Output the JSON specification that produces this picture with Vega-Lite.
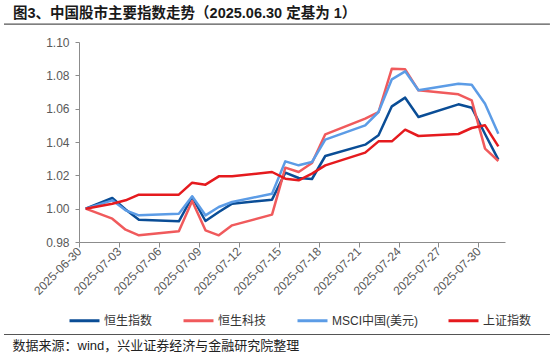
{
  "$schema": "https://vega.github.io/schema/vega-lite/v6.json",
  "width": 426,
  "height": 200,
  "autosize": {"type": "none"},
  "padding": {"left": 79, "top": 42, "right": 45, "bottom": 115},
  "background": "white",
  "config": {
    "view": {"stroke": null},
    "font": "Liberation Sans, Noto Sans CJK SC"
  },
  "title": {
    "text": "图3、中国股市主要指数走势（2025.06.30 定基为 1）",
    "anchor": "start",
    "frame": "group",
    "dx": -66,
    "offset": 2,
    "fontSize": 14.5,
    "fontWeight": "bold",
    "color": "#1a1a1a",
    "font": "Liberation Sans, Noto Sans CJK SC"
  },
  "datasets": {
    "idx": [
      {"d": "2025-06-30T12:00", "s": "恒生指数", "v": 1.000},
      {"d": "2025-07-02T12:00", "s": "恒生指数", "v": 1.0064},
      {"d": "2025-07-03T12:00", "s": "恒生指数", "v": 0.9995},
      {"d": "2025-07-04T12:00", "s": "恒生指数", "v": 0.9934},
      {"d": "2025-07-07T12:00", "s": "恒生指数", "v": 0.9924},
      {"d": "2025-07-08T12:00", "s": "恒生指数", "v": 1.007},
      {"d": "2025-07-09T12:00", "s": "恒生指数", "v": 0.9926},
      {"d": "2025-07-10T12:00", "s": "恒生指数", "v": 0.998},
      {"d": "2025-07-11T12:00", "s": "恒生指数", "v": 1.003},
      {"d": "2025-07-14T12:00", "s": "恒生指数", "v": 1.0054},
      {"d": "2025-07-15T12:00", "s": "恒生指数", "v": 1.0216},
      {"d": "2025-07-16T12:00", "s": "恒生指数", "v": 1.0184},
      {"d": "2025-07-17T12:00", "s": "恒生指数", "v": 1.0178},
      {"d": "2025-07-18T12:00", "s": "恒生指数", "v": 1.0316},
      {"d": "2025-07-21T12:00", "s": "恒生指数", "v": 1.0384},
      {"d": "2025-07-22T12:00", "s": "恒生指数", "v": 1.044},
      {"d": "2025-07-23T12:00", "s": "恒生指数", "v": 1.0614},
      {"d": "2025-07-24T12:00", "s": "恒生指数", "v": 1.0666},
      {"d": "2025-07-25T12:00", "s": "恒生指数", "v": 1.055},
      {"d": "2025-07-28T12:00", "s": "恒生指数", "v": 1.0626},
      {"d": "2025-07-29T12:00", "s": "恒生指数", "v": 1.0606},
      {"d": "2025-07-30T12:00", "s": "恒生指数", "v": 1.0448},
      {"d": "2025-07-31T12:00", "s": "恒生指数", "v": 1.0294},

      {"d": "2025-06-30T12:00", "s": "恒生科技", "v": 1.000},
      {"d": "2025-07-02T12:00", "s": "恒生科技", "v": 0.994},
      {"d": "2025-07-03T12:00", "s": "恒生科技", "v": 0.9874},
      {"d": "2025-07-04T12:00", "s": "恒生科技", "v": 0.984},
      {"d": "2025-07-07T12:00", "s": "恒生科技", "v": 0.9864},
      {"d": "2025-07-08T12:00", "s": "恒生科技", "v": 1.0046},
      {"d": "2025-07-09T12:00", "s": "恒生科技", "v": 0.987},
      {"d": "2025-07-10T12:00", "s": "恒生科技", "v": 0.984},
      {"d": "2025-07-11T12:00", "s": "恒生科技", "v": 0.990},
      {"d": "2025-07-14T12:00", "s": "恒生科技", "v": 0.9964},
      {"d": "2025-07-15T12:00", "s": "恒生科技", "v": 1.0246},
      {"d": "2025-07-16T12:00", "s": "恒生科技", "v": 1.022},
      {"d": "2025-07-17T12:00", "s": "恒生科技", "v": 1.0274},
      {"d": "2025-07-18T12:00", "s": "恒生科技", "v": 1.0446},
      {"d": "2025-07-21T12:00", "s": "恒生科技", "v": 1.054},
      {"d": "2025-07-22T12:00", "s": "恒生科技", "v": 1.058},
      {"d": "2025-07-23T12:00", "s": "恒生科技", "v": 1.084},
      {"d": "2025-07-24T12:00", "s": "恒生科技", "v": 1.0836},
      {"d": "2025-07-25T12:00", "s": "恒生科技", "v": 1.071},
      {"d": "2025-07-28T12:00", "s": "恒生科技", "v": 1.0686},
      {"d": "2025-07-29T12:00", "s": "恒生科技", "v": 1.065},
      {"d": "2025-07-30T12:00", "s": "恒生科技", "v": 1.036},
      {"d": "2025-07-31T12:00", "s": "恒生科技", "v": 1.0286},

      {"d": "2025-06-30T12:00", "s": "MSCI中国(美元)", "v": 1.000},
      {"d": "2025-07-02T12:00", "s": "MSCI中国(美元)", "v": 1.005},
      {"d": "2025-07-03T12:00", "s": "MSCI中国(美元)", "v": 0.999},
      {"d": "2025-07-04T12:00", "s": "MSCI中国(美元)", "v": 0.996},
      {"d": "2025-07-07T12:00", "s": "MSCI中国(美元)", "v": 0.997},
      {"d": "2025-07-08T12:00", "s": "MSCI中国(美元)", "v": 1.0074},
      {"d": "2025-07-09T12:00", "s": "MSCI中国(美元)", "v": 0.996},
      {"d": "2025-07-10T12:00", "s": "MSCI中国(美元)", "v": 1.001},
      {"d": "2025-07-11T12:00", "s": "MSCI中国(美元)", "v": 1.004},
      {"d": "2025-07-14T12:00", "s": "MSCI中国(美元)", "v": 1.009},
      {"d": "2025-07-15T12:00", "s": "MSCI中国(美元)", "v": 1.0284},
      {"d": "2025-07-16T12:00", "s": "MSCI中国(美元)", "v": 1.026},
      {"d": "2025-07-17T12:00", "s": "MSCI中国(美元)", "v": 1.028},
      {"d": "2025-07-18T12:00", "s": "MSCI中国(美元)", "v": 1.0414},
      {"d": "2025-07-21T12:00", "s": "MSCI中国(美元)", "v": 1.050},
      {"d": "2025-07-22T12:00", "s": "MSCI中国(美元)", "v": 1.058},
      {"d": "2025-07-23T12:00", "s": "MSCI中国(美元)", "v": 1.0776},
      {"d": "2025-07-24T12:00", "s": "MSCI中国(美元)", "v": 1.0824},
      {"d": "2025-07-25T12:00", "s": "MSCI中国(美元)", "v": 1.071},
      {"d": "2025-07-28T12:00", "s": "MSCI中国(美元)", "v": 1.075},
      {"d": "2025-07-29T12:00", "s": "MSCI中国(美元)", "v": 1.0744},
      {"d": "2025-07-30T12:00", "s": "MSCI中国(美元)", "v": 1.063},
      {"d": "2025-07-31T12:00", "s": "MSCI中国(美元)", "v": 1.045},

      {"d": "2025-06-30T12:00", "s": "上证指数", "v": 1.000},
      {"d": "2025-07-01T12:00", "s": "上证指数", "v": 1.0015},
      {"d": "2025-07-02T12:00", "s": "上证指数", "v": 1.003},
      {"d": "2025-07-03T12:00", "s": "上证指数", "v": 1.005},
      {"d": "2025-07-04T12:00", "s": "上证指数", "v": 1.0084},
      {"d": "2025-07-07T12:00", "s": "上证指数", "v": 1.0084},
      {"d": "2025-07-08T12:00", "s": "上证指数", "v": 1.0156},
      {"d": "2025-07-09T12:00", "s": "上证指数", "v": 1.0144},
      {"d": "2025-07-10T12:00", "s": "上证指数", "v": 1.0194},
      {"d": "2025-07-11T12:00", "s": "上证指数", "v": 1.0194},
      {"d": "2025-07-14T12:00", "s": "上证指数", "v": 1.022},
      {"d": "2025-07-15T12:00", "s": "上证指数", "v": 1.018},
      {"d": "2025-07-16T12:00", "s": "上证指数", "v": 1.017},
      {"d": "2025-07-17T12:00", "s": "上证指数", "v": 1.021},
      {"d": "2025-07-18T12:00", "s": "上证指数", "v": 1.026},
      {"d": "2025-07-21T12:00", "s": "上证指数", "v": 1.0336},
      {"d": "2025-07-22T12:00", "s": "上证指数", "v": 1.0404},
      {"d": "2025-07-23T12:00", "s": "上证指数", "v": 1.0404},
      {"d": "2025-07-24T12:00", "s": "上证指数", "v": 1.0474},
      {"d": "2025-07-25T12:00", "s": "上证指数", "v": 1.0436},
      {"d": "2025-07-28T12:00", "s": "上证指数", "v": 1.0448},
      {"d": "2025-07-29T12:00", "s": "上证指数", "v": 1.0484},
      {"d": "2025-07-30T12:00", "s": "上证指数", "v": 1.050},
      {"d": "2025-07-31T12:00", "s": "上证指数", "v": 1.0374}
    ],
    "one": [{"k": 1}]
  },
  "layer": [
    {
      "data": {"name": "idx"},
      "mark": {"type": "line", "strokeWidth": 2.5, "strokeJoin": "round"},
      "encoding": {
        "x": {
          "field": "d",
          "type": "temporal",
          "scale": {"domain": [{"year": 2025, "month": 6, "date": 30}, {"year": 2025, "month": 8, "date": 1}], "nice": false},
          "axis": {
            "values": [
              {"year": 2025, "month": 6, "date": 30},
              {"year": 2025, "month": 7, "date": 3},
              {"year": 2025, "month": 7, "date": 6},
              {"year": 2025, "month": 7, "date": 9},
              {"year": 2025, "month": 7, "date": 12},
              {"year": 2025, "month": 7, "date": 15},
              {"year": 2025, "month": 7, "date": 18},
              {"year": 2025, "month": 7, "date": 21},
              {"year": 2025, "month": 7, "date": 24},
              {"year": 2025, "month": 7, "date": 27},
              {"year": 2025, "month": 7, "date": 30}
            ],
            "tickCount": 20,
            "format": "%Y-%m-%d",
            "labelAngle": -45,
            "labelAlign": "right",
            "labelBaseline": "middle",
            "labelFontSize": 12,
            "labelColor": "#595959",
            "labelPadding": 2,
            "labelFlush": false,
            "labelOverlap": false,
            "grid": false,
            "tickSize": 5,
            "tickColor": "#8c8c8c",
            "domainColor": "#8c8c8c",
            "title": "数据来源：wind，兴业证券经济与金融研究院整理",
            "titleX": -67,
            "titleY": 103,
            "titleAlign": "left",
            "titleBaseline": "middle",
            "titleFontSize": 13,
            "titleFontWeight": "normal",
            "titleColor": "#222222"
          }
        },
        "y": {
          "field": "v",
          "type": "quantitative",
          "scale": {"domain": [0.98, 1.1], "nice": false, "zero": false},
          "axis": {
            "values": [0.98, 1.0, 1.02, 1.04, 1.06, 1.08, 1.1],
            "tickCount": 10,
            "format": ".2f",
            "title": null,
            "grid": false,
            "labelFontSize": 12,
            "labelColor": "#595959",
            "labelPadding": 6,
            "labelOverlap": false,
            "labelFlush": false,
            "tickSize": 4,
            "tickColor": "#8c8c8c",
            "domainColor": "#8c8c8c"
          }
        },
        "color": {
          "field": "s",
          "type": "nominal",
          "sort": ["恒生指数", "恒生科技", "MSCI中国(美元)", "上证指数"],
          "scale": {
            "domain": ["恒生指数", "恒生科技", "MSCI中国(美元)", "上证指数"],
            "range": ["#0A4D96", "#F05A5C", "#5C9CE6", "#E51A1E"]
          },
          "legend": {
            "orient": "none",
            "legendX": -11,
            "legendY": 262,
            "direction": "horizontal",
            "columns": 4,
            "title": null,
            "symbolType": "stroke",
            "symbolSize": 900,
            "symbolStrokeWidth": 3,
            "labelFontSize": 12,
            "labelOffset": 3,
            "labelColor": "#333333",
            "labelLimit": 0,
            "columnPadding": 24
          }
        }
      }
    },
    {
      "data": {"name": "one"},
      "mark": {"type": "rule", "color": "#555555", "strokeWidth": 1.2, "clip": false},
      "encoding": {
        "x": {"datum": {"year": 2025, "month": 6, "date": 24, "hours": 8, "minutes": 47}, "type": "temporal"},
        "x2": {"datum": {"year": 2025, "month": 8, "date": 4, "hours": 9, "minutes": 0}},
        "y": {"datum": 0.9245, "type": "quantitative"}
      }
    },
    {
      "data": {"name": "one"},
      "mark": {"type": "rect", "color": "#555555", "clip": false},
      "encoding": {
        "x": {"datum": {"year": 2025, "month": 6, "date": 24, "hours": 8, "minutes": 47}, "type": "temporal"},
        "x2": {"datum": {"year": 2025, "month": 8, "date": 4, "hours": 9, "minutes": 0}},
        "y": {"datum": 1.1104, "type": "quantitative"},
        "y2": {"datum": 1.1111}
      }
    }
  ]
}
